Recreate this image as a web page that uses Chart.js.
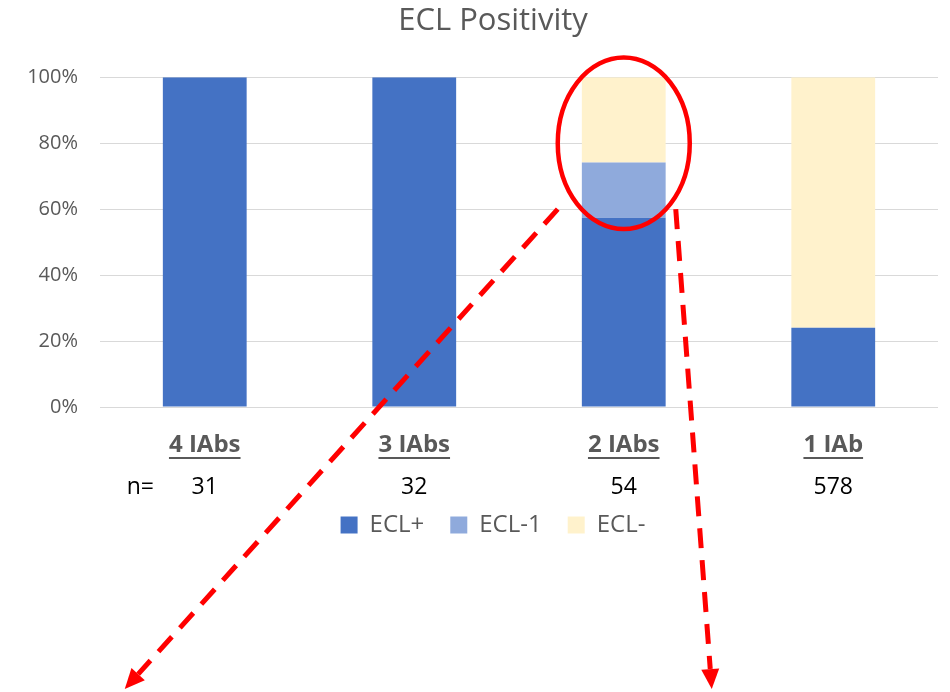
<!DOCTYPE html>
<html>
<head>
<meta charset="utf-8">
<script src="https://cdn.jsdelivr.net/npm/chart.js@4"></script>
<style>
  html, body { margin: 0; padding: 0; background: #fff; }
  #wrap { width: 950px; height: 692px; }
</style>
</head>
<body>
<div id="wrap"><canvas id="eclChart"></canvas></div>
<script>
// ----- Data -----
const categories = ["4 IAbs", "3 IAbs", "2 IAbs", "1 IAb"];
const counts = [31, 32, 54, 578];
const eclPos = [100, 100, 57.4, 24.0];   // ECL+
const eclOne = [0, 0, 16.7, 0];          // ECL-1
const eclNeg = [0, 0, 25.9, 76.0];       // ECL-
const yTicks = [0, 20, 40, 60, 80, 100];

const FONT = "'Open Sans', 'Liberation Sans', sans-serif";
const GREY = "#595959";

// ----- let y tick labels spill into the left padding -----
const unclipY = {
  id: "unclipY",
  afterLayout(chart) {
    chart.scales.y.left = 0;
  }
};

// ----- Category labels + n row -----
const catLabels = {
  id: "catLabels",
  afterDraw(chart) {
    const { ctx, chartArea, scales: { x } } = chart;
    ctx.save();
    ctx.textAlign = "center";
    ctx.textBaseline = "middle";
    categories.forEach((c, i) => {
      const px = x.getPixelForValue(i);
      ctx.font = `bold 24px ${FONT}`;
      ctx.fillStyle = GREY;
      const ly = chartArea.bottom + 38;
      ctx.fillText(c, px, ly);
      const w = ctx.measureText(c).width;
      ctx.fillRect(px - w / 2, ly + 12, w, 2);

      ctx.font = `23px ${FONT}`;
      ctx.fillStyle = "#000";
      ctx.fillText(String(counts[i]), px, chartArea.bottom + 80);
    });
    ctx.textAlign = "left";
    ctx.fillText("n=", x.getPixelForValue(0) - 78, chartArea.bottom + 80);
    ctx.restore();
  }
};

// ----- Red ellipse + dashed arrows around the 2 IAbs bar -----
function arrow(ctx, x0, y0, x1, y1) {
  const ang = Math.atan2(y1 - y0, x1 - x0);
  const head = 20;
  ctx.save();
  ctx.strokeStyle = "#FF0000";
  ctx.fillStyle = "#FF0000";
  ctx.lineWidth = 5;
  ctx.setLineDash([20, 12]);
  ctx.beginPath();
  ctx.moveTo(x0, y0);
  ctx.lineTo(x1 - head * Math.cos(ang), y1 - head * Math.sin(ang));
  ctx.stroke();
  ctx.setLineDash([]);
  ctx.beginPath();
  ctx.moveTo(x1, y1);
  ctx.lineTo(x1 - head * Math.cos(ang) + 9 * Math.sin(ang), y1 - head * Math.sin(ang) - 9 * Math.cos(ang));
  ctx.lineTo(x1 - head * Math.cos(ang) - 9 * Math.sin(ang), y1 - head * Math.sin(ang) + 9 * Math.cos(ang));
  ctx.closePath();
  ctx.fill();
  ctx.restore();
}

const highlight = {
  id: "highlight",
  afterDraw(chart) {
    const { ctx, scales: { x, y } } = chart;
    const cx = x.getPixelForValue(2);
    const cy = y.getPixelForValue(80);
    const ry = y.getPixelForValue(0) - y.getPixelForValue(26);
    const rx = 66;
    ctx.save();
    ctx.strokeStyle = "#FF0000";
    ctx.lineWidth = 4.5;
    ctx.beginPath();
    ctx.ellipse(cx, cy, rx, ry, 0, 0, Math.PI * 2);
    ctx.stroke();
    ctx.restore();

    const sy = y.getPixelForValue(60);
    arrow(ctx, cx - 66, sy, x.getPixelForValue(0) - 80, chart.height - 3);
    arrow(ctx, cx + 52, sy, cx + 88, chart.height - 3);
  }
};

// ----- Chart -----
const ctx = document.getElementById("eclChart").getContext("2d");
new Chart(ctx, {
  type: "bar",
  data: {
    labels: categories,
    datasets: [
      { label: "ECL+", data: eclPos, backgroundColor: "#4472C4" },
      { label: "ECL-1", data: eclOne, backgroundColor: "#8FAADC" },
      { label: "ECL-", data: eclNeg, backgroundColor: "#FFF2CC" }
    ]
  },
  options: {
    responsive: true,
    maintainAspectRatio: false,
    animation: false,
    datasets: { bar: { barPercentage: 0.4, categoryPercentage: 1 } },
    layout: { padding: { top: 3, left: 48, right: 12, bottom: 145 } },
    plugins: {
      title: {
        display: true,
        text: "ECL Positivity",
        color: GREY,
        font: { family: FONT, size: 31, weight: "normal" },
        padding: { top: 0, bottom: 37 }
      },
      legend: {
        position: "bottom",
        labels: {
          boxWidth: 17,
          boxHeight: 17,
          padding: 26,
          color: GREY,
          font: { family: FONT, size: 24 }
        }
      },
      tooltip: { enabled: false }
    },
    scales: {
      x: {
        stacked: true,
        grid: { display: false },
        border: { display: false },
        ticks: { display: false },
        afterFit: s => { s.height = 80; }
      },
      y: {
        stacked: true,
        min: 0,
        max: 100,
        afterBuildTicks: s => { s.ticks = yTicks.map(v => ({ value: v })); },
        afterFit: s => { s.width = 52; },
        grid: { color: "#D9D9D9", lineWidth: 1, drawTicks: false },
        border: { display: false },
        ticks: {
          padding: 22,
          color: GREY,
          font: { family: FONT, size: 20 },
          callback: v => v + "%"
        }
      }
    }
  },
  plugins: [unclipY, catLabels, highlight]
});
</script>
</body>
</html>
